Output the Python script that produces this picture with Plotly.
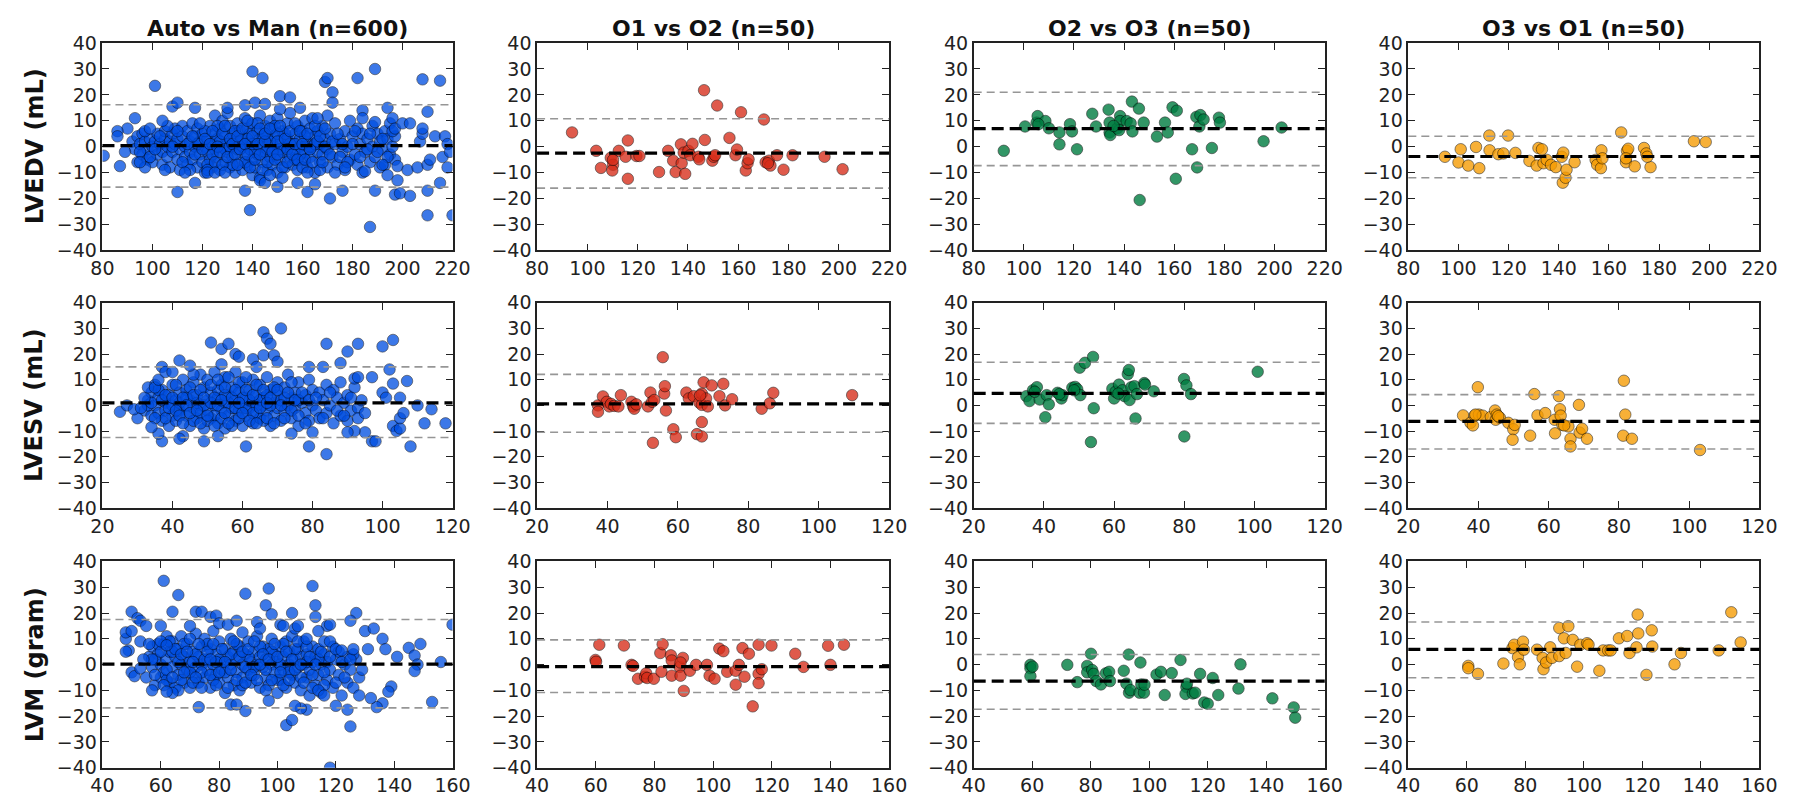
import plotly.graph_objects as go
from plotly.subplots import make_subplots

col_titles = ["Auto vs Man (n=600)", "O1 vs O2 (n=50)", "O2 vs O3 (n=50)", "O3 vs O1 (n=50)"]
row_labels = ["LVEDV (mL)", "LVESV (mL)", "LVM (gram)"]
x_ranges = [[80, 220], [20, 120], [40, 160]]

# ---------------- LVEDV ----------------
edv_auto = [
    (92,2),(93,-1),(94,-6),(94,4),(95,1),(96,-3),(96,5),(97,2),(98,-1),(98,-5),(99,3),(100,0),(100,-6),(101,2),(102,-3),(102,5),
    (103,1),(104,-2),(104,-7),(105,3),(105,6),(106,-4),(106,0),(107,2),(107,-8),(108,5),(108,-2),(109,1),(109,7),(110,-5),(110,3),(111,-1),(111,-9),(112,4),(112,8),(113,0),(113,-4),
    (114,6),(114,-7),(115,2),(115,-2),(116,9),(116,-5),(117,0),(117,4),(118,-8),(118,7),(119,-3),(119,2),(120,5),(120,-6),(121,0),(121,-10),(122,3),(122,-2),(123,8),(123,-5),(124,1),(124,-8),(125,5),(125,-1),(125,12),
    (126,-4),(126,3),(127,7),(127,-9),(128,0),(128,10),(129,-6),(129,4),(130,1),(130,-2),(130,13),(131,8),(131,-8),(132,-4),(132,5),(133,2),(133,-10),(134,-1),(134,9),(135,6),(135,-6),(136,0),(136,3),(136,-9),(137,-3),(137,11),(138,7),(138,-7),(139,2),(139,-1),(139,5),(140,-5),(140,9),(140,-11),
    (141,1),(141,-8),(142,6),(142,-3),(143,3),(143,-12),(143,12),(144,0),(144,-6),(145,8),(145,-2),(146,4),(146,-9),(147,-4),(147,10),(148,1),(148,7),(148,-7),(149,-1),(149,4),(150,-10),(150,11),(151,2),(151,-5),(152,6),(152,-2),(153,0),(153,-8),(154,9),(154,3),(155,-4),(155,13),
    (156,1),(156,-7),(157,5),(157,-2),(158,8),(158,-9),(159,0),(159,3),(160,-5),(160,6),(161,-2),(161,10),(162,2),(162,-8),(163,7),(163,-4),(164,0),(164,11),(165,4),(165,-10),(166,-2),(166,6),(167,1),(167,-6),(168,8),(168,-3),(169,3),(170,-1),(170,12),(170,-8),
    (171,5),(172,-4),(173,1),(173,9),(174,-7),(175,3),(176,-2),(177,6),(177,-9),(178,0),(179,10),(179,-5),(180,4),(181,-3),(182,7),(182,-7),(183,1),(184,-10),(184,5),(185,-2),
    (186,3),(187,-6),(188,8),(188,0),(189,-4),(190,5),(191,-8),(191,2),(192,-1),(193,6),(193,-7),(194,3),(195,-3),(195,9),(196,0),(197,4),(197,-5),
    (118,1),(121,6),(124,-3),(127,2),(129,-1),(131,0),(133,6),(135,2),(137,-6),(138,3),(141,-2),(142,9),(144,4),(146,-1),(147,2),(149,8),(151,-1),(153,5),(155,1),(157,-5),(159,-3),(161,4),(163,0),(165,1),(167,-9),(150,5),(140,1),(132,-7),(126,8),(122,-7),
    (95,-2),(97,6),(99,-4),(101,-1),(103,4),(105,-9),(106,8),(108,0),(110,6),(112,-6),(114,1),(115,-9),(116,4),(117,-3),(119,9),(120,-1),(121,3),(122,-9),(123,1),(124,6),(125,-6),(126,0),(127,-2),(128,5),(128,-7),(129,8),(130,-4),(131,3),(132,1),(133,-3),(134,4),(134,-7),(135,-1),(136,7),(137,1),(138,-3),(138,10),(139,-8),(140,4),(141,-5),(142,1),(143,7),(143,-3),(144,-9),(145,2),(145,5),(146,-6),(147,7),(148,-2),(149,-5),(150,2),(150,-3),(151,8),(152,-8),(153,3),(154,-1),(154,-6),(155,6),(156,-3),(157,1),(157,9),(158,-5),(159,6),(160,1),(160,-8),(161,-5),(162,5),(163,-1),(164,-6),(165,8),(166,2),(167,4),(168,-6),(169,0),(169,7),(171,-3),(172,2),(174,5),(175,-4),(176,1),(178,-6),(180,1),(181,6),(183,-4),(186,-1),(187,5),(190,-2),(192,3),(194,-4),(196,6),
    (93,11),(90,7),(86,6),(86,4),(87,-7.5),(89,-2),(80.5,-3.5),(97,-8),(95,-6),(99,7),(101,23.5),(104,10),(108,15.5),(110,17),(110,-17.5),(113,-10),(117,15),(117,-14),(122,-10),(125,-10),(129,-10),(130,15),(137,16),(137,-17),(139,-24.5),(140,29),(141,17),(144,26.5),(145,16.5),(143,-13),(145,-14),(147,-11),(150,-15.5),(151,19.5),(151,14.5),(152,-12),(155,19),(159,15),(158,-14),(162,-17.5),(162,-10),(165,-14.5),(166,11),(169,25),(170,26.5),(172,21),(172,17),(171,-20),(173,-10),(176,-17),(177,-8),(182,26.5),(184,14),(184,11),(185,-9.5),(187,-31),(189,30),(189,-17),(189,9.5),(192,-7),(194,15),(194,-11),(196,11),(197,7),(198,-7.5),(198,-13),(197,-18.5),(199,-18),(200,9),(202,-9),(203,9),(203,-19),(206,-8),(207,2),(208,5),(208,7),(208,26),(210,13.5),(210,-7),(211,-5),(210,-17),(210,-26.5),(213,4),(215,25.5),(215,-14),(216,-4),(217,4),(218,1),(218,-8),(219,-2),(220,-26.5),
]
edv_o1o2 = [(93.9,5.5),(103.5,-1.6),(105.4,-8.2),(109.3,-4.3),(110.2,-7),(109.9,-9.2),(112.5,-1.6),(115.2,-3.9),(116.1,2.4),(116.1,-12.4),(119.5,-3.6),(120.7,-3.6),(128.5,-9.8),(132.1,-1.6),(134.1,-5.4),(135.1,-9.8),(137.2,0.9),(137.5,-6.4),(138.9,-10.5),(138.3,-2.3),(140.2,-1.6),(140.9,-3.3),(141.8,1.1),(144.1,-3.9),(144.5,-4.9),(146.4,21.8),(146.7,2.6),(149.7,-5.4),(150.3,-3.9),(150.8,-3.3),(151.6,15.9),(156.5,3.4),(158.9,-3.3),(159.5,-1.1),(161.1,13.3),(163.0,-9.2),(163.7,-6.4),(164.1,-4.9),(170.2,10.5),(170.9,-6),(172.2,-5.4),(172.8,-7.3),(175.4,-3.3),(178,-8.9),(181.6,-3.3),(194.3,-3.9),(201.5,-8.7),(110.2,-5.1),(171.8,-6.4)]
edv_o2o3 = [(92.0,-1.6),(100.5,7.8),(105.1,9.3),(105.5,11.8),(108.6,9.9),(110.0,7.1),(114.2,5.5),(114.2,0.9),(118.4,8.7),(119.2,5.9),(121.2,-1),(127.3,12.7),(128.8,7.8),(133.8,14.3),(134.2,9.3),(134.2,5.5),(134.5,4.5),(137.3,7.1),(138.4,11.8),(138.4,9.9),(138.0,6.4),(141.0,9.9),(142.6,9),(143.1,17.4),(143.3,5.9),(145.9,14.7),(146.2,-20.6),(147.8,9.3),(153.1,3.9),(156.3,9.3),(157.4,5.5),(159.3,15.2),(161.0,13.9),(160.6,-12.4),(167.1,-1),(169.1,-8),(168.8,11.5),(170.4,12.2),(170.0,7.8),(171.7,10.5),(175.0,-0.5),(177.8,11.2),(178.2,9.3),(195.6,2.1),(202.8,7.4),(105.8,8.7),(135.8,8.0)]
edv_o3o1 = [(94.6,-3.9),(100.0,-6.1),(100.9,-1),(103.9,-7.3),(107.0,-0.1),(108.3,-8.3),(112.3,4.3),(112.4,-1.4),(115.9,-2.9),(117.9,-2.6),(119.8,4.3),(122.7,-2.4),(128.3,-5.5),(131.2,-7.3),(131.9,-0.5),(133.3,-1),(133.9,-6.4),(135.2,-5.1),(136.9,-7),(138.8,-7.9),(141.2,-3.9),(141.8,-2.3),(141.6,-13.9),(142.7,-12),(143.1,-8.9),(146.3,-6),(154.7,-5.1),(155.3,-7),(156.8,-8.3),(157.0,-1.4),(157.4,-4.5),(164.9,5.5),(166.8,-6),(167.2,-1.6),(167.7,-0.8),(170.3,-7.6),(174.0,-0.5),(174.9,-2.6),(176.6,-7.9),(193.9,2.1),(198.6,1.8),(175.3,-3.9),(166.8,-4.5)]

# ---------------- LVESV ----------------
esv_auto = [
    (32,-2),(33,2),(34,-4),(34,5),(35,0),(35,8),(36,-3),(36,3),(37,-6),(37,6),(38,1),(38,-2),(39,4),(39,-8),(40,0),(40,8),(40,-4),
    (41,2),(41,-6),(42,5),(42,-2),(43,10),(43,0),(44,-4),(44,6),(45,2),(45,-8),(46,-1),(46,9),(47,4),(47,-5),(48,0),(48,12),(48,-3),(49,7),(49,-9),(50,2),(50,-2),(50,10),
    (51,-5),(51,5),(52,0),(52,13),(53,3),(53,-7),(54,8),(54,-2),(55,1),(55,-9),(55,11),(56,4),(56,-4),(57,-1),(57,7),(58,2),(58,-6),(58,13),(59,5),(59,-2),(60,0),(60,9),(60,-8),
    (61,3),(61,-4),(62,6),(62,-1),(63,1),(63,10),(63,-7),(64,-3),(64,4),(65,8),(65,-5),(66,0),(66,3),(67,-2),(67,11),(68,6),(68,-8),(69,1),(69,-4),(70,4),(70,9),(70,-1),
    (71,-6),(71,2),(72,7),(72,-2),(73,0),(73,12),(74,3),(74,-5),(75,5),(75,-1),(76,-8),(76,9),(77,1),(78,-3),(78,4),(79,10),(79,-6),(80,0),(80,6),
    (81,-2),(82,5),(82,-5),(83,2),(84,8),(84,-3),(85,0),(86,6),(86,-7),(87,3),(88,-4),(88,9),(89,1),(90,-6),(90,4),(91,-2),(92,7),(93,-1),(93,-5),(94,2),(95,-3),
    (42,1),(44,3),(46,-6),(47,1),(49,0),(51,1),(52,-4),(53,6),(54,-5),(56,1),(57,-8),(58,-1),(59,9),(61,-1),(62,2),(64,0),(65,2),(66,-6),(67,4),(69,7),(72,3),(74,-2),(63,-3),(55,4),(45,7),(38,-5),(60,3),(68,0),(50,-6),(76,2),
    (33,0),(34,1),(35,-5),(36,6),(37,2),(38,4),(39,-1),(40,3),(41,-2),(41,8),(42,-4),(43,3),(43,-7),(44,0),(45,-3),(46,4),(46,12),(47,-2),(48,6),(48,-7),(49,3),(50,-4),(51,8),(52,3),(52,-8),(53,0),(53,10),(54,2),(55,-3),(55,7),(56,-7),(56,11),(57,3),(58,6),(59,-5),(59,1),(60,-3),(61,6),(61,11),(62,-6),(63,4),(64,8),(64,-7),(65,-1),(66,6),(67,-5),(67,1),(68,3),(69,-7),(70,6),(71,0),(72,-5),(73,5),(74,9),(75,2),(76,-4),(77,5),(78,-7),(79,2),(81,3),(83,-5),(85,5),(87,-2),(89,-4),(91,3),
    (66,28.5),(67,26),(68,24),(71,30),(51,24.5),(54,22),(56,24),(58,20),(59,19),(63,18),(66,19.5),(69,19.5),(70,17),(64,15),(42,17.5),(37,15),(45,15.5),(54,16),(84,24),(90,21),(93,24),(100,23),(103,25.5),(102,14),(88,16.5),(79,15),(83,15),(97,11),(92,10.5),(93,11),(107,9.5),(110,0),(114,-1.5),(112,-7),(118,-7),(103,-8),(104,-10),(105,-9),(108,-16),(105,-5),(106,-3),(100,5),(101,3),(103,8.5),(105,3),(97,-14),(98,-14),(95,-10.5),(92,-10),(90,-10.5),(84,-19),(79,-16),(80,-10.5),(74,-11),(61,-16),(49,-14),(53,-12),(43,-12),(42,-13),(37,-14),(36,-11),(34,-8.5),(30,-5),(25,-2.5),(27,0),(29,-1.5),(31,-1),(32,3),(33,7),(35,7),(36,10),(38,13),(40,13),
]
esv_o1o2 = [(37.3,0),(37.3,-2.5),(38.7,3.5),(39.8,1.4),(40.5,-0.4),(41.0,0.6),(41.9,-0.2),(43.1,-0.4),(43.8,4),(46.8,1.4),(47.3,-0.4),(47.6,-1.3),(48.2,0.4),(51.5,-0.4),(52.2,5),(52.7,1.4),(52.9,-14.6),(53.3,2.1),(55.7,18.8),(56.1,4.6),(56.3,7.5),(56.6,-2),(58.7,-9.3),(59.4,-12.4),(62.4,5),(63.1,2.7),(64.5,3.6),(65.4,-11.2),(66.1,1.1),(66.8,4.6),(66.8,0.2),(66.8,-6.5),(66.8,-12.1),(67.3,9),(68,2.7),(68.5,-0.4),(69.6,7.8),(71.8,3.6),(72.9,8.4),(73.4,0),(75.4,2.4),(83.8,-1.3),(86.1,0.8),(87.1,4.9),(109.5,4),(66.3,3.9)]
esv_o2o3 = [(35.0,3.6),(35.9,1.7),(36.9,5.9),(38.0,7.1),(38.8,2.3),(40.4,-4.6),(40.8,4),(41.4,0.4),(43.9,4.9),(45.0,2.7),(45.3,4),(48.1,6.9),(48.9,7.2),(49.5,6.3),(50.4,4),(50.2,14.7),(51.7,16.6),(53.4,-14.3),(54.0,18.9),(54.2,-1.1),(59.5,6.5),(60.0,2.7),(60.4,5.3),(61.4,8.1),(62.4,5.9),(63.0,3.6),(63.9,12.2),(64.2,13.8),(64.4,2.1),(64.9,7.1),(65.8,7.5),(66.1,-5.1),(66.5,4.4),(68.6,8.7),(68.8,8.1),(71.3,5.5),(79.9,10.3),(80.0,-12.1),(80.6,7.8),(81.9,4.4),(100.9,13.1),(37.4,5.3),(44.4,4.4),(48.6,5.9),(61.2,4.6)]
esv_o3o1 = [(35.6,-3.9),(37.7,-6.8),(38.4,-7.8),(38.9,-4),(39.8,7.1),(40.1,-3.6),(41.2,-4),(43.5,-4.5),(44.7,-2),(44.9,-5.6),(45.2,-3.6),(46.1,-4.8),(48.5,-6.8),(49.9,-9.3),(49.7,-13.4),(50.3,-7.6),(54.7,-11.8),(55.9,4.4),(56.8,-3.9),(59.0,-3),(61.7,-5.6),(61.8,-10.9),(62.9,3.6),(63.2,-1.5),(63.4,-4),(63.9,-7.6),(65.6,-8.2),(66.2,-13),(66.2,-16),(68.6,0.2),(68.8,-10.6),(69.5,-9.1),(70.9,-13),(81.2,-11.8),(81.4,9.6),(81.8,-3.6),(83.7,-13),(103.1,-17.4),(39.1,-3.6),(45.6,-4.2),(64.4,-7.8)]

# ---------------- LVM ----------------
lvm_auto = [
    (55,-5),(56,3),(57,-1),(57,7),(58,-8),(59,4),(60,0),(60,-5),(61,8),(61,-3),(62,2),(62,11),(63,-7),(63,5),(64,-1),(64,9),(65,3),(65,-9),
    (66,-4),(66,6),(67,0),(67,11),(68,-7),(68,3),(69,-2),(69,8),(70,1),(70,-9),(71,5),(71,-4),(72,12),(72,-1),(73,3),(73,-7),(74,7),(74,0),(75,-5),(75,10),
    (76,2),(76,-2),(77,6),(77,-9),(78,0),(78,13),(79,-4),(79,4),(80,9),(80,-7),(81,1),(81,-2),(82,6),(82,-11),(83,3),(83,-5),(84,10),(84,0),(85,-8),(85,5),
    (86,-3),(86,2),(87,7),(87,-10),(88,0),(88,-5),(89,4),(90,-2),(90,9),(91,1),(91,-7),(92,5),(92,-4),(93,0),(93,11),(94,-9),(94,3),(95,7),(95,-1),
    (96,-5),(96,2),(97,6),(97,-8),(98,0),(98,10),(99,-3),(99,4),(100,-11),(100,1),(101,7),(101,-6),(102,-2),(102,3),(103,9),(103,-9),(104,0),(104,5),(105,-4),(105,11),
    (106,2),(106,-7),(107,-1),(107,6),(108,-10),(108,3),(109,0),(109,9),(110,-5),(110,4),(111,-2),(111,-12),(112,7),(112,1),(113,-8),(113,3),(114,-4),(114,6),(115,0),(115,-11),
    (116,4),(117,-6),(117,1),(118,-2),(119,7),(119,-9),(120,2),(121,-4),(121,5),(122,-12),(123,0),(124,-7),(124,3),(125,-2),(126,-9),(127,2),(128,-5),(128,-12),(126,4),
    (62,-6),(64,5),(66,1),(68,8),(70,-3),(72,4),(74,-3),(76,8),(78,-6),(80,2),(82,-3),(84,4),(86,8),(88,-8),(90,3),(92,-1),(94,7),(96,-2),(98,5),(100,-6),(102,8),(104,-3),(106,6),(108,-5),(110,1),(112,-4),(114,2),(116,-8),(58,2),(67,-6),(79,1),(89,-1),(101,0),
    (57,2),(58,-4),(59,8),(60,5),(61,-8),(62,-2),(63,9),(64,-5),(65,6),(66,-10),(67,4),(68,-3),(69,5),(70,10),(71,-7),(71,1),(72,-5),(73,8),(74,-9),(75,2),(76,5),(77,-4),(77,2),(78,8),(79,-8),(80,-3),(81,6),(82,1),(83,-9),(84,-2),(85,9),(86,-6),(87,3),(88,5),(89,-7),(90,6),(91,-4),(92,9),(93,-6),(94,0),(95,4),(96,-10),(97,2),(98,-6),(99,8),(100,3),(101,-3),(102,-8),(103,5),(104,-6),(105,2),(106,-2),(107,9),(108,0),(109,-7),(110,7),(111,3),(112,-9),(113,0),(114,-10),(115,5),(116,-3),(118,3),(120,-7),(122,1),(123,-5),(125,2),
    (61,32.5),(66,27),(89,27.5),(97,29.5),(96,23),(98,19.5),(105,20),(112,30.5),(113,23),(113,18.5),(117,15),(118,15.5),(127,20),(125,17),(130,13),(133,14),(136,10),(137,6),(141,3),(145,6.5),(147,3.5),(149,8),(148,0),(147,-2.5),(153,-14.5),(156,1),(160,15.5),(139,-8.5),(138,-10.5),(136,-15),(134,-16.5),(132,-13),(125,-24),(124,-17.5),(118,-40),(120,-16),(116,-12),(110,-17.5),(108,-17),(106,-16),(103,-23.5),(105,-21.5),(97,-14),(89,-18),(84,-15.5),(86,-15.5),(73,-16.5),(64,-11),(62,-10.5),(57,-10),(50,-3),(51,-4.5),(49,5.5),(48,5),(48,10),(48,12.5),(50,13),(50,20.5),(52,18),(53,17),(55,15),(53,9),(54,2),(53,-1.5),(56,8),(60,15),(60,9),(62,7.5),(64,20.5),(70,15),(72,20.5),(74,20.5),(77,18.5),(79,19),(80,16),(83,15.5),(86,17),(88,12.5),(93,16.5),(94,14),(101,15.5),(102,15),(106,14),(107,15),(110,10),(114,13),(116,9),(118,9),(120,6),(122,5.5),(126,6),(129,-2),(131,6),
]
lvm_o1o2 = [(59.9,1.8),(60.1,1.1),(61.2,7.7),(69.6,7.4),(72.2,-0.1),(72.7,-0.5),(74.4,-5.5),(76.8,-4.7),(77.2,-3.4),(77.5,-5.2),(79.8,-5.5),(82.0,4.5),(82.8,7.9),(82.4,-2.8),(85.6,3.6),(85.9,1.6),(85.9,-4.3),(88.6,-0.9),(88.9,-4.3),(89.7,2.6),(90.0,-10.2),(92.1,-2.4),(94.2,-0.1),(97.9,-0.1),(98.8,-4.3),(100.5,-5.5),(102.1,6.2),(103.5,5.2),(104.8,-2.8),(107.7,-2.4),(107.7,-7.8),(108.8,-0.1),(110.0,6.4),(110.7,-4.7),(112.2,4.2),(113.5,-16.2),(115.5,7.7),(115.5,-3.6),(115.5,-7.2),(116.6,-1.8),(119.9,7.4),(128.0,4.2),(130.8,-0.9),(139.2,7.3),(140.0,-0.1),(144.6,7.7),(88.9,0.8)]
lvm_o2o3 = [(59.4,-0.1),(59.4,-1.4),(59.4,-4.5),(72.0,-0.1),(75.4,-6.8),(78.8,-0.5),(78.8,-3),(80.1,4.2),(80.5,-2.1),(81.0,-3.6),(81.9,-6.4),(83.5,-7.7),(85.2,-3.4),(86.3,-2.8),(86.6,-6.4),(91.3,-2.4),(92.2,-7.4),(93.0,3.9),(93.1,-10.9),(93.6,-9.9),(96.7,-10.9),(97.0,0.8),(97.3,-7.7),(98.2,-10.9),(98.4,-7.8),(102.5,-3.9),(104.0,-2.8),(105.3,-11.8),(107.7,-3.3),(110.7,1.8),(112.7,-8.7),(112.4,-11.4),(114.9,-11.2),(115.7,-10.9),(117.4,-3.6),(118.8,-14.7),(120.0,-15.2),(121.7,-5.2),(123.6,-11.8),(130.5,-9.3),(131.2,0.1),(142.1,-13.1),(149.4,-16.6),(149.9,-20.6),(60.1,-0.8),(112.9,-7.4)]
lvm_o3o1 = [(60.5,-0.5),(60.5,-1.4),(63.8,-3.6),(72.5,0.4),(75.6,6.4),(76.2,7.7),(77.5,2.9),(78.1,0.1),(79.2,8.9),(79.5,5.8),(84.0,5.8),(85.9,2.6),(86.2,-1.8),(87.1,0.8),(88.5,6.7),(89.1,2.6),(91.6,3.3),(91.6,14.2),(93.2,10.2),(93.8,4.5),(94.7,14.9),(96.2,9.6),(97.7,-0.8),(98.8,7.7),(101.1,8.3),(101.6,7.7),(105.3,-2.4),(106.6,5.5),(108.3,5.5),(109.2,5.5),(112.0,10.2),(114.8,11.1),(115.6,4.5),(118.0,6.7),(118.4,19.4),(118.6,12.1),(121.4,-4),(123.2,13.3),(123.4,7),(131.0,0.1),(133.2,4.5),(146.1,5.5),(150.4,20.3),(153.6,8.6)]

panels = [
    [edv_auto, edv_o1o2, edv_o2o3, edv_o3o1],
    [esv_auto, esv_o1o2, esv_o2o3, esv_o3o1],
    [lvm_auto, lvm_o1o2, lvm_o2o3, lvm_o3o1],
]
bias = [[0.4, -2.5, 7.0, -3.8], [1.0, 0.6, 4.7, -6.2], [0.2, -0.75, -6.4, 5.9]]
loa_upper = [[16.2, 10.8, 21.0, 4.0], [15.0, 12.1, 16.8, 4.2], [17.5, 9.6, 3.9, 16.5]]
loa_lower = [[-15.6, -16.0, -7.3, -12.0], [-12.5, -10.5, -7.0, -17.0], [-16.8, -10.8, -17.3, -5.1]]

colors = ["rgb(0,78,225)", "rgb(215,45,25)", "rgb(0,125,65)", "rgb(245,155,0)"]
alphas = [0.76, 0.78, 0.8, 0.78]

x_dom = [[0.05114, 0.24903], [0.29683, 0.49583], [0.54363, 0.74208], [0.78933, 0.98777]]
y_dom = [[0.69365, 0.95890], [0.36364, 0.62640], [0.03113, 0.29514]]

fig = make_subplots(rows=3, cols=4)
font_fam = "DejaVu Sans, Verdana, sans-serif"

for r in range(3):
    for c in range(4):
        pts = panels[r][c]
        xs = [p[0] for p in pts]
        ys = [p[1] for p in pts]
        fig.add_trace(go.Scatter(
            x=xs, y=ys, mode="markers", showlegend=False, hoverinfo="skip",
            marker=dict(size=11.5, color=colors[c], opacity=alphas[c],
                        line=dict(color="rgba(0,0,0,0.75)", width=0.8)),
            cliponaxis=True,
        ), row=r + 1, col=c + 1)
        idx = r * 4 + c + 1
        xr = "x" if idx == 1 else f"x{idx}"
        yr = "y" if idx == 1 else f"y{idx}"
        for val, colr, w, dash in [(loa_upper[r][c], "rgb(150,150,150)", 1.6, "8px,5px"),
                                   (loa_lower[r][c], "rgb(150,150,150)", 1.6, "8px,5px"),
                                   (bias[r][c], "black", 3.2, "12px,6px")]:
            fig.add_shape(type="line", xref=f"{xr} domain", yref=yr, x0=0, x1=1, y0=val, y1=val,
                          line=dict(color=colr, width=w, dash=dash), layer="above")
        fig.update_xaxes(domain=x_dom[c], range=x_ranges[r], dtick=20, tick0=0,
                         row=r + 1, col=c + 1)
        fig.update_yaxes(domain=y_dom[r], range=[-40, 40], dtick=10, tick0=0,
                         row=r + 1, col=c + 1)

axis_style = dict(showgrid=False, zeroline=False, showline=True, linecolor="#222222", linewidth=1.5,
                  mirror="ticks", ticks="inside", ticklen=7, tickwidth=1, tickcolor="#222222",
                  tickfont=dict(family=font_fam, size=19, color="#222222"))
fig.update_xaxes(**axis_style)
fig.update_yaxes(**axis_style)

annotations = []
for c in range(4):
    annotations.append(dict(text=f"<b>{col_titles[c]}</b>", x=(x_dom[c][0] + x_dom[c][1]) / 2, y=y_dom[0][1],
                            xref="paper", yref="paper", xanchor="center", yanchor="bottom", yshift=0,
                            showarrow=False, font=dict(family=font_fam, size=22, color="#111111")))
for r in range(3):
    annotations.append(dict(text=f"<b>{row_labels[r]}</b>", x=23 / 1799, y=(y_dom[r][0] + y_dom[r][1]) / 2,
                            xref="paper", yref="paper", xanchor="center", yanchor="middle", textangle=-90,
                            showarrow=False, font=dict(family=font_fam, size=24, color="#111111")))

fig.update_layout(width=1799, height=803, margin=dict(l=0, r=0, t=0, b=0),
                  paper_bgcolor="white", plot_bgcolor="white", annotations=annotations,
                  font=dict(family=font_fam))
fig.write_html("out.html")
